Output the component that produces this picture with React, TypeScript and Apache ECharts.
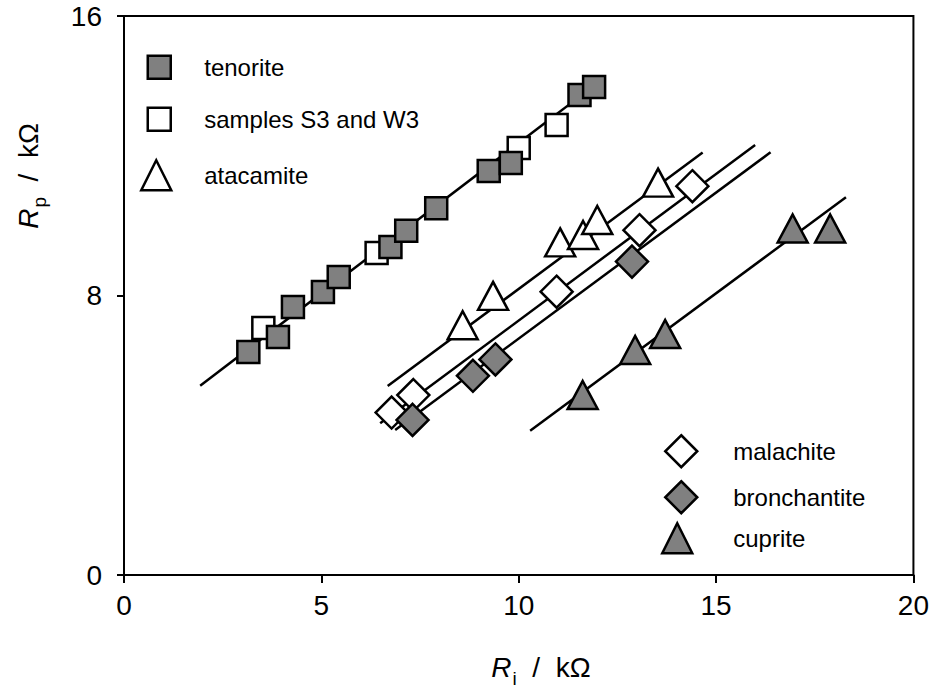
import React, { useEffect, useRef } from "react";
import * as echarts from "echarts";

// ---- data (Ri, Rp in kΩ) ----
const tenorite = [[3.15, 6.38], [3.9, 6.81], [4.28, 7.67], [5.04, 8.1], [5.44, 8.53], [6.75, 9.39], [7.15, 9.85], [7.91, 10.5], [9.24, 11.56], [9.8, 11.79], [11.54, 13.74], [11.91, 13.97]];
const samplesS3W3 = [[3.53, 7.07], [6.4, 9.22], [10.0, 12.22], [10.96, 12.88]];
const atacamite = [[8.58, 7.15], [9.35, 7.99], [11.05, 9.52], [11.63, 9.73], [11.99, 10.16], [13.53, 11.23]];
const malachite = [[6.78, 4.65], [7.33, 5.15], [10.96, 8.11], [13.06, 9.87], [14.4, 11.13]];
const bronchantite = [[7.31, 4.44], [8.84, 5.7], [9.41, 6.17], [12.87, 8.97]];
const cuprite = [[11.62, 5.15], [12.95, 6.44], [13.71, 6.9], [16.94, 9.92], [17.89, 9.92]];

// fitted lines (end points)
const fitTenorite = [[1.93, 5.42], [11.9, 14.0]];
const fitAtacamite = [[6.68, 5.41], [14.66, 12.09]];
const fitMalachite = [[6.49, 4.34], [15.99, 12.31]];
const fitBronchantite = [[6.87, 4.15], [16.38, 12.1]];
const fitCuprite = [[10.29, 4.13], [18.29, 10.81]];

const xTicks = [0, 5, 10, 15, 20];
const yTicks = [0, 8, 16];

const FONT = "Liberation Sans, Arial, sans-serif";
const GRAY = "#808080";

export default function App() {
  const ref = useRef<HTMLDivElement>(null);
  useEffect(() => {
    if (!ref.current) return;
    const chart = echarts.init(ref.current, undefined, { renderer: "svg" });

    const line = (data: number[][]) => ({
      type: "line",
      data,
      symbol: "none",
      silent: true,
      lineStyle: { color: "#000", width: 2.5 },
      z: 2,
    });
    const scatter = (name: string, data: number[][], symbol: string, size: any, fill: string) => ({
      type: "scatter",
      name,
      data,
      symbol,
      symbolSize: size,
      itemStyle: { color: fill, borderColor: "#000", borderWidth: 2.5, opacity: 1 },
      z: 3,
    });
    // icon centre cx, text start tx, icon size s, vertical centre cy
    const legend = (name: string, cx: number, cy: number, s: number, tx: number) => ({
      data: [name],
      left: cx - s / 2,
      top: cy - s / 2,
      itemWidth: s,
      itemHeight: s,
      padding: 0,
      selectedMode: false,
      itemStyle: { borderColor: "#000", borderWidth: 2.5 },
      textStyle: {
        fontFamily: FONT,
        fontSize: 24,
        color: "#000",
        padding: [0, 0, 0, tx - (cx + s / 2 + 5)],
      },
    });

    chart.setOption({
      animation: false,
      backgroundColor: "#fff",
      grid: { left: 124, right: 14, top: 16, bottom: 121, show: true, borderColor: "#000", borderWidth: 2 },
      xAxis: {
        type: "value",
        min: xTicks[0],
        max: xTicks[xTicks.length - 1],
        interval: 5,
        axisLine: { show: true, onZero: false, lineStyle: { color: "#000", width: 2 } },
        axisTick: { show: true, inside: false, length: 8, lineStyle: { color: "#000", width: 2 } },
        axisLabel: { fontFamily: FONT, fontSize: 28, color: "#000", margin: 16 },
        splitLine: { show: false },
      },
      yAxis: {
        type: "value",
        min: yTicks[0],
        max: yTicks[yTicks.length - 1],
        interval: 8,
        axisLine: { show: true, onZero: false, lineStyle: { color: "#000", width: 2 } },
        axisTick: { show: true, inside: false, length: 7, lineStyle: { color: "#000", width: 2 } },
        axisLabel: { fontFamily: FONT, fontSize: 28, color: "#000", margin: 22 },
        splitLine: { show: false },
      },
      legend: [
        legend("tenorite", 158, 66, 23, 203),
        legend("samples S3 and W3", 158, 118, 23, 203),
        legend("atacamite", 155, 174, 30, 203),
        legend("malachite", 680, 450, 32, 732),
        legend("bronchantite", 680, 496, 32, 732),
        legend("cuprite", 676, 537, 30, 732),
      ],
      series: [
        line(fitTenorite),
        line(fitAtacamite),
        line(fitMalachite),
        line(fitBronchantite),
        line(fitCuprite),
        scatter("samples S3 and W3", samplesS3W3, "rect", 22, "#fff"),
        scatter("tenorite", tenorite, "rect", 22, GRAY),
        scatter("atacamite", atacamite, "triangle", [30, 28], "#fff"),
        scatter("malachite", malachite, "diamond", 32, "#fff"),
        scatter("bronchantite", bronchantite, "diamond", 32, GRAY),
        scatter("cuprite", cuprite, "triangle", [30, 28], GRAY),
      ],
      graphic: [
        {
          type: "text",
          x: 541,
          y: 667,
          style: {
            text: "{r|R}{s|i}{n|  /  kΩ}",
            align: "center",
            verticalAlign: "middle",
            rich: {
              r: { fontFamily: FONT, fontSize: 28, fontStyle: "italic", fill: "#000", lineHeight: 30 },
              s: { fontFamily: FONT, fontSize: 19, fill: "#000", lineHeight: 19, padding: [22, 0, 0, 1] },
              n: { fontFamily: FONT, fontSize: 28, fill: "#000", lineHeight: 30 },
            },
          },
        },
        {
          type: "text",
          x: 28,
          y: 176,
          rotation: Math.PI / 2,
          style: {
            text: "{r|R}{s|p}{n|  /  kΩ}",
            align: "center",
            verticalAlign: "middle",
            rich: {
              r: { fontFamily: FONT, fontSize: 28, fontStyle: "italic", fill: "#000", lineHeight: 30 },
              s: { fontFamily: FONT, fontSize: 19, fill: "#000", lineHeight: 19, padding: [22, 0, 0, 1] },
              n: { fontFamily: FONT, fontSize: 28, fill: "#000", lineHeight: 30 },
            },
          },
        },
      ],
    });
    return () => chart.dispose();
  }, []);
  return <div ref={ref} style={{ position: "absolute", left: 0, top: 0, width: 932, height: 696 }} />;
}
